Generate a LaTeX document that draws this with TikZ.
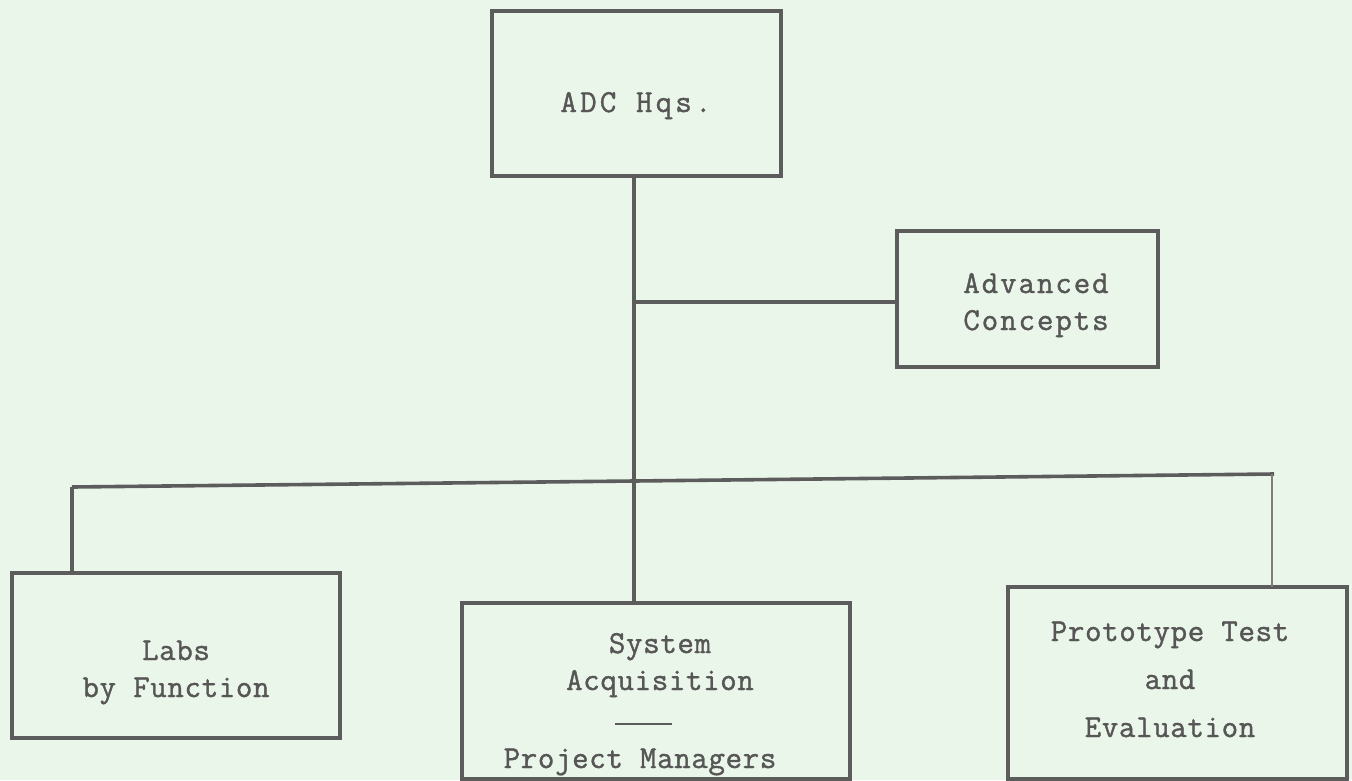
\documentclass[tikz,border=0pt]{standalone}
\usepackage{fontspec}
\setmonofont{Latin Modern Mono}[LetterSpace=2,FakeBold=1.2]
\definecolor{paper}{RGB}{235,246,234}
\definecolor{ink}{RGB}{92,92,92}
\definecolor{textink}{RGB}{86,86,86}
\begin{document}
\begin{tikzpicture}[x=1pt,y=-1pt,
  orgbox/.style={draw=ink,line width=3.2pt,rectangle,inner sep=0pt},
  boxtext/.style={font=\ttfamily\fontsize{32}{37}\selectfont,text=textink,align=center,anchor=base,inner sep=0pt},
  widetext/.style={font=\ttfamily\fontsize{32}{37}\selectfont\addfontfeature{LetterSpace=#1}},
  wire/.style={draw=ink,line width=3.6pt},
  thinwire/.style={draw=ink!80,line width=2pt}]
  % page
  \fill[paper] (0,0) rectangle (1352,780);
  \useasboundingbox (0,0) rectangle (1352,780);

  % boxes
  \node[orgbox,minimum width=289pt,minimum height=165pt] (hq)  at (636.5,93.5) {};
  \node[orgbox,minimum width=261pt,minimum height=136pt] (adv) at (1027.5,299) {};
  \node[orgbox,minimum width=328pt,minimum height=165pt] (labs) at (176,655.5) {};
  \node[orgbox,minimum width=388pt,minimum height=176pt] (sys) at (656,691) {};
  \node[orgbox,minimum width=339pt,minimum height=192pt] (pte) at (1177.5,683) {};

  % box texts (a multi-line node sits on the baseline of its last line)
  \node[boxtext,widetext=10] (hqt)   at (636,112) {ADC Hqs.};
  \node[boxtext,widetext=6] (advt)  at (1036,330) {Advanced\\Concepts};
  \node[boxtext] (labst) at (176,697) {Labs\\by Function};
  \node[boxtext] (syst)  at (660,690) {System\\Acquisition};
  \node[boxtext] (pmt)   at (640,768) {Project Managers};
  \node[boxtext,font=\ttfamily\fontsize{32}{48}\selectfont] (ptet) at (1170,737) {Prototype Test\\and\\Evaluation};
  \coordinate (ruleL) at (615,724);
  \coordinate (ruleR) at (672,724);
  \draw[ink,line width=2.4pt] (ruleL) -- (ruleR);

  % connectors
  \coordinate (busL) at (72,487);
  \coordinate (busM) at (634,481);
  \coordinate (busR) at (1274,474);
  \coordinate (advj) at (634,302);
  \draw[wire] (hq.south -| busM) -- (sys.north -| busM);
  \draw[wire] (advj) -- (advj -| adv.west);
  \draw[wire] (busL) -- (busM) -- (busR);
  \draw[wire] (busL) -- (busL |- labs.north);
  \draw[thinwire] (1272,474) -- (1272,587);
\end{tikzpicture}
\end{document}
